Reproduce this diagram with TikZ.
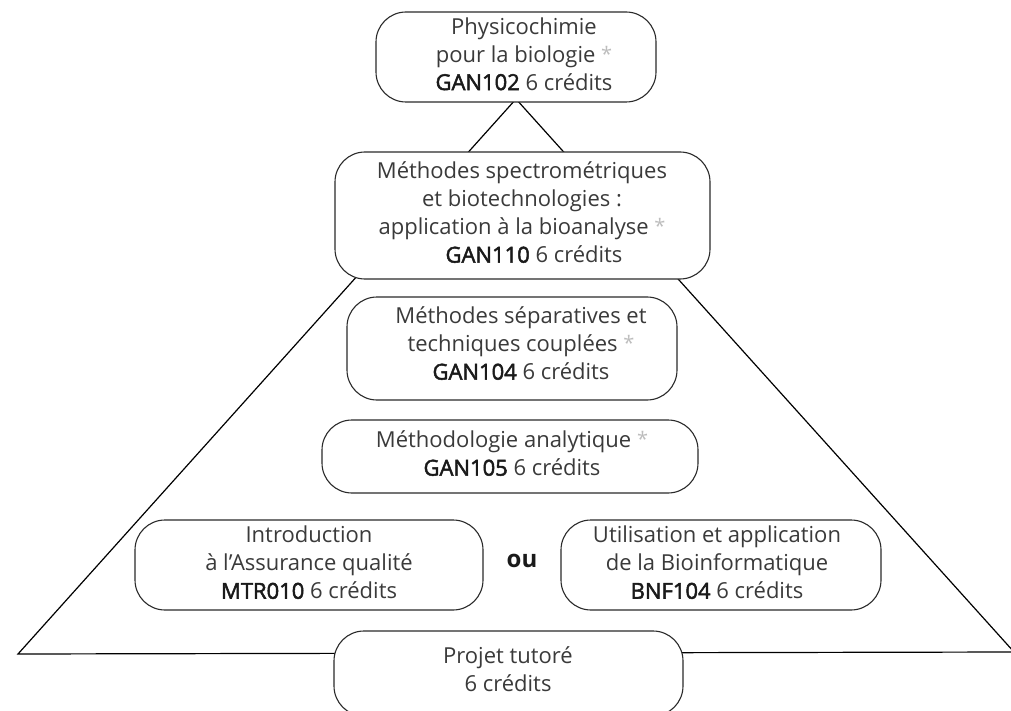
\documentclass[tikz,border=0pt]{standalone}
\usepackage{fontspec}
\setmainfont{Open Sans}
\newfontfamily\medfont{Open Sans}[FakeBold=2.2]
\definecolor{txtc}{HTML}{3A3A3A}
\definecolor{codec}{HTML}{1A1A1A}
\definecolor{astc}{HTML}{BDBDBD}
\definecolor{boxc}{HTML}{2A2A2A}
\newcommand{\cd}[1]{{\medfont\color{codec}#1}}
\newcommand{\astk}{{\fontsize{20}{20}\selectfont\color{astc}\raisebox{1pt}{*}}}
\tikzset{
  box/.style={draw=boxc, line width=1.1pt, fill=white, rounded corners=30pt, inner sep=0pt},
  txt/.style={align=center, font=\fontsize{22}{28}\selectfont, text=txtc, inner sep=0pt},
  tri/.style={draw=black, line width=1.2pt, line join=miter}
}
\begin{document}
\begin{tikzpicture}[x=1pt,y=-1pt]
\useasboundingbox (0,0) rectangle (1011,711);
\begin{scope}
\clip (0,0) rectangle (1011,711);
\coordinate (apex) at (516,99);
\coordinate (left) at (18,654);
\coordinate (right) at (1014,652);
\draw[tri] (left) -- (apex) -- (right) -- cycle;
\node[box, minimum width=280pt, minimum height=90pt] (b1) at (516,57) {};
\node[box, minimum width=375pt, minimum height=127pt] (b2) at (522.5,215.5) {};
\node[box, minimum width=330pt, minimum height=103pt] (b3) at (512,348.5) {};
\node[box, minimum width=376pt, minimum height=73pt] (b4) at (510,456.5) {};
\node[box, minimum width=348pt, minimum height=90pt] (b5) at (309,565) {};
\node[box, minimum width=320pt, minimum height=90pt] (b6) at (721,565) {};
\node[box, minimum width=349pt, minimum height=85pt] (b7) at (508.5,673.5) {};
\end{scope}
\node[txt] (t1) at (524,53.8) {Physicochimie\\pour la biologie \astk\\\cd{GAN102} 6 crédits};
\node[txt] (t2) at (522,212.3) {Méthodes spectrométriques\\et biotechnologies :\\application à la bioanalyse \astk\\\hspace*{24pt}\cd{GAN110} 6 crédits};
\node[txt] (t3) at (521,343.3) {Méthodes séparatives et\\techniques couplées \astk\\\cd{GAN104} 6 crédits};
\node[txt] (t4) at (512,453.3) {Méthodologie analytique \astk\\\cd{GAN105} 6 crédits};
\node[txt] (t5) at (309,562.5) {Introduction\\à l’Assurance qualité\\\cd{MTR010} 6 crédits};
\node[txt] (t6) at (717,562.5) {Utilisation et application\\de la Bioinformatique\\\cd{BNF104} 6 crédits};
\node[txt] (t7) at (508,669.3) {Projet tutoré\\6 crédits};
\node[font=\bfseries\fontsize{24}{24}\selectfont, text=codec, inner sep=0pt] (ou) at (522,561) {ou};
\end{tikzpicture}
\end{document}
